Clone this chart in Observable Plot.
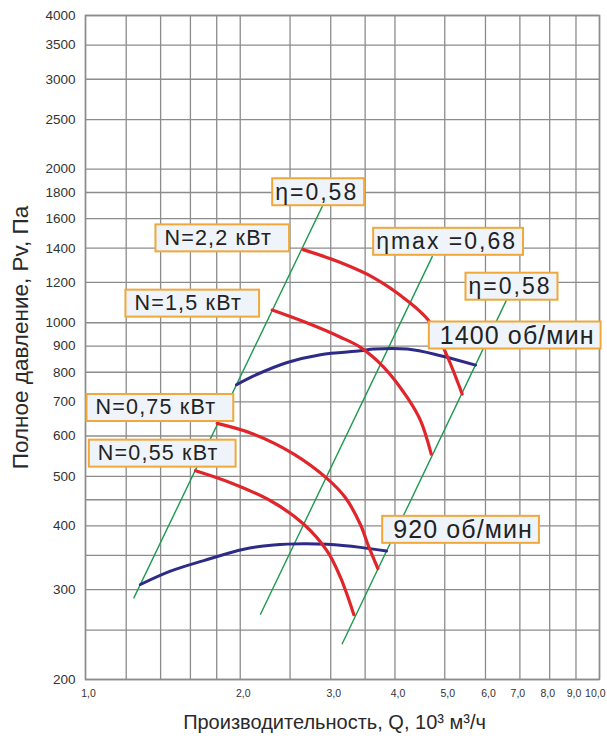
<!DOCTYPE html>
<html>
<head>
<meta charset="utf-8">
<script src="https://cdn.jsdelivr.net/npm/d3@7"></script>
<script src="https://cdn.jsdelivr.net/npm/@observablehq/plot@0.6"></script>
<style>
  html, body { margin: 0; padding: 0; background: #fff; }
  #chart svg { display: block; }
</style>
</head>
<body>
<div id="chart"></div>
<script>
// ---- Grid and tick values ----
const xGrid = [1, 1.2, 1.4, 1.6, 1.8, 2, 2.5, 3, 3.5, 4, 5, 6, 7, 8, 9, 10];
const yGrid = [200, 250, 300, 350, 400, 450, 500, 600, 700, 800, 900, 1000, 1200, 1400, 1600, 1800, 2000, 2500, 3000, 3500, 4000];
const xTicks = [1, 2, 3, 4, 5, 6, 7, 8, 9, 10];
const yTicks = [200, 300, 400, 500, 600, 700, 800, 900, 1000, 1200, 1400, 1600, 1800, 2000, 2500, 3000, 3500, 4000];

// ---- Fan curves (Q in 10^3 m3/h, P in Pa) ----
const rpm1400 = [[1.967, 756], [2.125, 787], [2.469, 836], [2.866, 866], [3.428, 881], [3.638, 888], [4.226, 888], [4.906, 862], [5.738, 826]];
const rpm920 = [[1.279, 307], [1.463, 326], [1.699, 342], [2.032, 360], [2.324, 367], [2.659, 369], [2.953, 368], [3.428, 363], [3.852, 357]];

// ---- Power curves ----
const n22 = [[2.652, 1391], [3.134, 1312], [3.633, 1226], [4.226, 1105], [4.655, 1009], [5.017, 875], [5.405, 725]];
const n15 = [[2.308, 1059], [2.679, 1002], [3.134, 937], [3.428, 895], [3.806, 818], [4.226, 714], [4.486, 643], [4.706, 553]];
const n075 = [[1.804, 635], [2.125, 605], [2.543, 553], [2.953, 495], [3.205, 454], [3.428, 402], [3.553, 365], [3.705, 330]];
const n055 = [[1.637, 513], [1.915, 486], [2.291, 448], [2.659, 403], [2.953, 357], [3.134, 317], [3.327, 268]];

// ---- Efficiency lines ----
const etaLeft = [[1.242, 289], [2.887, 1689]];
const etaMax = [[2.190, 268.5], [4.727, 1348]];
const etaRight = [[3.158, 235], [6.585, 1105]];

// ---- Annotation labels (anchored at box left / vertical centre) ----
const labelText = ["η=0,58", "N=2,2 кВт", "N=1,5 кВт", "ηmax =0,68", "η=0,58", "1400 об/мин", "N=0,75 кВт", "N=0,55 кВт", "920 об/мин"];
const labelQ = [2.308, 1.368, 1.196, 3.628, 5.486, 4.655, 1.0045, 1.015, 3.777];
const labelP = [1801, 1466, 1092, 1440, 1176, 942, 682, 555, 392];
const labelKind = ["eta", "n", "n", "eta", "eta", "rpm", "n", "n", "rpm"];

const labels = labelText.map((t, i) => ({text: t, q: labelQ[i], p: labelP[i], kind: labelKind[i]}));
const kinds = {
  n:   {fontSize: 21.5, ls: 1.2, padL: 9,  padR: 17},
  eta: {fontSize: 23, ls: 2.0, padL: 3,  padR: 6},
  rpm: {fontSize: 25, ls: 1.1, padL: 11, padR: 6}
};

const FONT = "'Liberation Sans', Arial, Helvetica, sans-serif";
const GRID = "#8c8c8c";
const RED = "#e1262b";
const BLUE = "#2e2b88";
const GREEN = "#1f9a50";
const fmtX = d => d.toFixed(1).replace(".", ",");

const lineOpts = (color, w) => ({x: d => d[0], y: d => d[1], stroke: color, strokeWidth: w, curve: "catmull-rom"});
const xLab = (filter, extra) => Plot.text(xTicks.filter(filter), Object.assign({x: d => d, frameAnchor: "bottom", lineAnchor: "middle", dy: 14, text: fmtX, fontSize: 10.5, fill: "#333"}, extra));

const marks = [
  Plot.ruleX(xGrid, {x: d => d, stroke: GRID, strokeWidth: 1.3}),
  Plot.ruleY(yGrid, {y: d => d, stroke: GRID, strokeWidth: 1.3}),
  // efficiency lines
  Plot.line(etaLeft, {x: d => d[0], y: d => d[1], stroke: GREEN, strokeWidth: 1.4}),
  Plot.line(etaMax, {x: d => d[0], y: d => d[1], stroke: GREEN, strokeWidth: 1.4}),
  Plot.line(etaRight, {x: d => d[0], y: d => d[1], stroke: GREEN, strokeWidth: 1.4}),
  // fan curves
  Plot.line(rpm1400, lineOpts(BLUE, 3)),
  Plot.line(rpm920, lineOpts(BLUE, 3)),
  // power curves
  Plot.line(n22, lineOpts(RED, 3.2)),
  Plot.line(n15, lineOpts(RED, 3.2)),
  Plot.line(n075, lineOpts(RED, 3.2)),
  Plot.line(n055, lineOpts(RED, 3.2)),
  // tick labels
  Plot.text(yTicks, {y: d => d, frameAnchor: "left", textAnchor: "end", dx: -10, text: d => String(d), fontSize: 13.5, fill: "#333"}),
  xLab(d => d < 7, {dx: 3}),
  xLab(d => d >= 7 && d < 10, {dx: -2}),
  xLab(d => d >= 10, {dx: 6, textAnchor: "end"}),
  // axis titles
  Plot.text(["Полное давление, Pv, Па"], {frameAnchor: "left", textAnchor: "middle", lineAnchor: "middle", rotate: -90, dx: -65, dy: -10, fontSize: 22.5, fill: "#2a2a2a", text: d => d}),
  Plot.text(["Производительность, Q, 10³ м³/ч"], {frameAnchor: "bottom", textAnchor: "middle", lineAnchor: "middle", dx: -8, dy: 43, fontSize: 20, fill: "#2a2a2a", text: d => d}),
  Plot.frame({stroke: GRID, strokeWidth: 1.5})
];

for (const k of Object.keys(kinds)) {
  marks.push(Plot.text(labels.filter(d => d.kind === k), {
    x: "q", y: "p", text: "text", textAnchor: "start", lineAnchor: "middle", dx: kinds[k].padL,
    fontSize: kinds[k].fontSize, fill: "#222"
  }));
}

const svg = Plot.plot({
  width: 607,
  height: 736,
  marginLeft: 85,
  marginRight: 8,
  marginTop: 15,
  marginBottom: 57,
  style: {fontFamily: FONT, background: "#fff", overflow: "visible"},
  x: {type: "log", domain: [1, 10], axis: null},
  y: {type: "log", domain: [200, 4000], axis: null},
  marks
});
document.getElementById("chart").appendChild(svg);

// Boxes behind annotation labels
const kindOf = new Map(labels.map(d => [d.text, d.kind]));
for (const t of Array.from(svg.querySelectorAll("text"))) {
  const k = kindOf.get(t.textContent);
  if (!k) continue;
  const spec = kinds[k];
  t.style.letterSpacing = spec.ls + "px";
  const bb = t.getBBox();
  const cy = bb.y + bb.height / 2;
  const r = document.createElementNS("http://www.w3.org/2000/svg", "rect");
  r.setAttribute("x", bb.x - spec.padL);
  r.setAttribute("y", cy - 13.5);
  r.setAttribute("width", bb.width + spec.padL + spec.padR);
  r.setAttribute("height", 27);
  r.setAttribute("fill", "#eef4fa");
  r.setAttribute("stroke", "#f0a83a");
  r.setAttribute("stroke-width", 2);
  const tr = t.getAttribute("transform");
  if (tr) r.setAttribute("transform", tr);
  t.parentNode.insertBefore(r, t);
}
</script>
</body>
</html>
